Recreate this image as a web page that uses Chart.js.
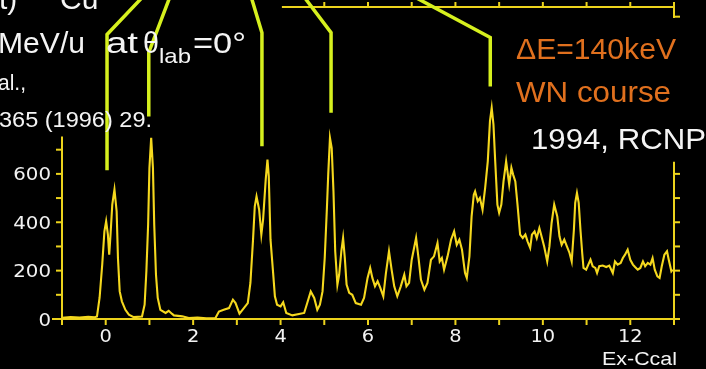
<!DOCTYPE html>
<html>
<head>
<meta charset="utf-8">
<script src="https://cdn.jsdelivr.net/npm/chart.js@4.4.1/dist/chart.umd.min.js"></script>
<style>
html,body{margin:0;padding:0;background:#000;}
#wrap{width:706px;height:369px;}
</style>
</head>
<body>
<div id="wrap"><canvas id="c" width="706" height="369"></canvas></div>
<script>
// Excitation energy (MeV, Ex-Ccal) and counts
const energy = [
 -1.00,-0.80,-0.60,-0.40,-0.25,-0.20,-0.14,-0.08,-0.03,0.01,
 0.05,0.08,0.11,0.15,0.20,0.25,0.28,0.32,0.37,0.45,
 0.53,0.64,0.83,0.89,0.93,0.97,1.00,1.04,1.08,1.11,
 1.15,1.19,1.25,1.37,1.44,1.52,1.56,1.75,1.90,2.10,
 2.30,2.51,2.59,2.70,2.82,2.91,2.97,3.06,3.16,3.25,
 3.31,3.37,3.41,3.45,3.51,3.56,3.60,3.66,3.70,3.73,
 3.77,3.83,3.87,3.92,4.00,4.06,4.13,4.27,4.42,4.54,
 4.61,4.69,4.77,4.84,4.90,4.96,5.01,5.06,5.09,5.13,
 5.17,5.21,5.25,5.30,5.34,5.39,5.43,5.47,5.51,5.57,
 5.64,5.72,5.84,5.91,5.99,6.05,6.10,6.16,6.22,6.28,
 6.35,6.41,6.48,6.54,6.60,6.67,6.75,6.83,6.88,6.94,
 7.00,7.10,7.16,7.21,7.29,7.36,7.44,7.51,7.59,7.64,
 7.69,7.74,7.82,7.90,7.97,8.03,8.09,8.15,8.22,8.26,
 8.32,8.37,8.42,8.45,8.51,8.56,8.62,8.68,8.74,8.79,
 8.83,8.87,8.91,8.96,9.00,9.05,9.10,9.16,9.20,9.23,
 9.28,9.32,9.37,9.42,9.48,9.54,9.60,9.65,9.71,9.75,
 9.81,9.86,9.92,9.98,10.03,10.10,10.15,10.20,10.26,10.33,
 10.38,10.43,10.49,10.55,10.61,10.66,10.71,10.74,10.78,10.82,
 10.86,10.90,10.93,10.99,11.04,11.09,11.14,11.20,11.24,11.29,
 11.37,11.45,11.52,11.60,11.65,11.71,11.78,11.83,11.88,11.94,
 12.00,12.06,12.11,12.17,12.23,12.29,12.34,12.40,12.46,12.51,
 12.56,12.62,12.67,12.72,12.78,12.84,12.88,12.94,12.97
];
const counts = [
 5,8,6,9,7,10,88,225,362,404,
 349,266,349,473,535,445,252,114,73,38,
 18,8,10,59,197,390,625,749,625,390,
 183,87,38,25,34,21,15,11,4,6,
 3,4,31,38,45,80,66,22,45,66,
 149,328,466,507,452,349,411,576,659,590,
 328,190,94,59,52,69,25,15,21,25,
 66,114,87,38,59,114,252,459,597,749,
 707,528,280,142,183,280,335,252,142,108,
 100,66,59,87,170,211,170,135,156,130,
 94,190,280,204,135,94,135,183,135,149,
 245,335,245,163,121,149,245,259,314,238,
 252,204,259,328,362,307,328,287,190,170,
 259,424,514,528,487,501,452,542,652,818,
 873,804,652,473,439,473,569,652,597,556,
 625,597,569,473,349,335,349,321,294,349,
 362,335,376,335,300,238,300,397,473,424,
 342,307,328,300,273,238,369,480,521,480,
 369,273,211,204,225,245,218,211,190,218,
 221,215,221,190,238,225,232,252,266,287,
 245,225,215,204,211,238,218,232,225,252,
 204,176,170,218,266,280,245,197,204
];
// Axis settings
const xRange = [-1, 13];
const yRange = [0, 1290];
const xLabels = [0, 2, 4, 6, 8, 10, 12];
const yLabels = [0, 200, 400, 600];
// Peak markers (energy, lower end of marker in counts)
const markerPeaks = [0.03, 0.985, 3.574, 5.155, 8.797];
const markerBottom = [615, 837, 714, 853, 961];
const markerBend = [1176, 1102, 1184, 1184, 1164];
const markerTopX = [0.90, 1.49, 3.31, 4.495, 6.958];
const markerTopY = 1342;

const AXIS = '#ecd31c';
const LIME = '#d6f01e';
const ORANGE = '#e0701e';

function txt(ctx, s, x, y, font, color, targetW, align){
  ctx.save();
  ctx.font = font;
  ctx.fillStyle = color;
  ctx.textBaseline = 'alphabetic';
  const w = ctx.measureText(s).width;
  const sc = targetW ? targetW / w : 1;
  ctx.translate(x, y);
  ctx.scale(sc, 1);
  ctx.textAlign = align || 'left';
  ctx.fillText(s, 0, 0);
  ctx.restore();
}
function seg(ctx, x1, y1, x2, y2){
  ctx.beginPath(); ctx.moveTo(x1, y1); ctx.lineTo(x2, y2); ctx.stroke();
}

const deco = {
  id: 'deco',
  beforeDraw(chart){
    const ctx = chart.ctx;
    ctx.save(); ctx.fillStyle = '#000'; ctx.fillRect(0, 0, chart.width, chart.height); ctx.restore();
  },
  beforeDatasetsDraw(chart){
    const ctx = chart.ctx, xs = chart.scales.x, ys = chart.scales.y;
    const X = v => xs.getPixelForValue(v), Y = v => ys.getPixelForValue(v);
    ctx.save();
    ctx.strokeStyle = AXIS; ctx.lineWidth = 2; ctx.lineCap = 'butt';
    const x0 = X(xRange[0]), x1 = X(xRange[1]), y0 = Y(0), yTop = Y(yRange[1]);
    // bottom axis
    seg(ctx, x0 - 10, y0, x1 + 1, y0);
    xs.ticks.forEach(t => seg(ctx, X(t.value), y0, X(t.value), y0 + 6));
    // left axis
    seg(ctx, x0, y0, x0, Y(755));
    ys.ticks.filter(t => t.value % 50 === 0 && t.value <= 750)
      .forEach(t => seg(ctx, x0 - 6, Y(t.value), x0, Y(t.value)));
    // right axis
    seg(ctx, x1, y0, x1, Y(650));
    ys.ticks.filter(t => t.value % 50 === 0 && t.value <= 600)
      .forEach(t => seg(ctx, x1, Y(t.value), x1 + 6, Y(t.value)));
    seg(ctx, x1, yTop - 1, x1, Y(1245));
    seg(ctx, x1, Y(1250), x1 + 6, Y(1250));
    // top axis (partly hidden by the title block)
    seg(ctx, X(4.03), yTop, x1, yTop);
    xs.ticks.filter(t => t.value >= 4.5)
      .forEach(t => seg(ctx, X(t.value), yTop, X(t.value), yTop - 5));
    ctx.restore();
    // tick labels
    const tf = '18px "DejaVu Sans"';
    xs.ticks.filter(t => xLabels.includes(t.value)).forEach(t => {
      ctx.save(); ctx.font = tf;
      const w = ctx.measureText(String(t.value)).width; ctx.restore();
      txt(ctx, String(t.value), X(t.value), 342, tf, '#f2f2f2', w * 1.08, 'center');
    });
    ys.ticks.filter(t => yLabels.includes(t.value)).forEach(t => {
      ctx.save(); ctx.font = tf;
      const w = ctx.measureText(String(t.value)).width; ctx.restore();
      txt(ctx, String(t.value), 51, Y(t.value) + 6.5, tf, '#f2f2f2', w * 1.1, 'right');
    });
  },
  afterDatasetsDraw(chart){
    const ctx = chart.ctx, xs = chart.scales.x, ys = chart.scales.y;
    const X = v => xs.getPixelForValue(v), Y = v => ys.getPixelForValue(v);
    // peak marker lines
    ctx.save();
    ctx.strokeStyle = LIME; ctx.lineWidth = 3.5; ctx.lineJoin = 'miter'; ctx.lineCap = 'butt';
    markerPeaks.forEach((e, i) => {
      ctx.beginPath();
      ctx.moveTo(X(e), Y(markerBottom[i]));
      ctx.lineTo(X(e), Y(markerBend[i]));
      ctx.lineTo(X(markerTopX[i]), Y(markerTopY));
      ctx.stroke();
    });
    ctx.restore();
    // title block (cropped slide text)
    const W = '#f4f4f4';
    txt(ctx, 't)', -1, 9, '30px "Liberation Sans"', W);
    txt(ctx, 'Cu', 60, 9, '30px "Liberation Sans"', W);
    txt(ctx, 'MeV/u', -2, 53, '30px "Liberation Sans"', W, 87);
    txt(ctx, 'at', 106, 53, '30px "Liberation Sans"', W, 32);
    txt(ctx, 'θ', 143, 53, '30px "Liberation Sans"', W, 16);
    txt(ctx, 'lab', 159, 63, '21px "Liberation Sans"', W, 32);
    txt(ctx, '=0°', 193, 53, '30px "Liberation Sans"', W, 53);
    txt(ctx, 'al.,', -2, 90, '22px "Liberation Sans"', W, 28);
    txt(ctx, '365 (1996) 29.', -1, 127, '22px "Liberation Sans"', W, 153);
    txt(ctx, 'ΔE=140keV', 516, 59, '29px "Liberation Sans"', ORANGE, 160);
    txt(ctx, 'WN course', 516, 102, '29px "Liberation Sans"', ORANGE, 155);
    txt(ctx, '1994, RCNP', 531, 149, '29px "Liberation Sans"', W, 175);
    txt(ctx, 'Ex-Ccal', 602, 365, '18px "Liberation Sans"', W, 75);
  }
};

const points = energy.map((e, i) => ({x: e, y: counts[i]}));

new Chart(document.getElementById('c'), {
  type: 'line',
  data: { datasets: [{
    data: points,
    borderColor: '#f5d81e',
    borderWidth: 2.1,
    pointRadius: 0,
    tension: 0,
    fill: false
  }]},
  options: {
    responsive: false,
    animation: false,
    devicePixelRatio: 1,
    layout: { padding: { left: 62, right: 32, top: 7, bottom: 50 } },
    plugins: { legend: { display: false }, tooltip: { enabled: false } },
    scales: {
      x: { type: 'linear', display: false, min: xRange[0], max: xRange[1], ticks: { stepSize: 0.5 } },
      y: { type: 'linear', display: false, min: yRange[0], max: yRange[1], ticks: { stepSize: 50 } }
    }
  },
  plugins: [deco]
});
</script>
</body>
</html>
